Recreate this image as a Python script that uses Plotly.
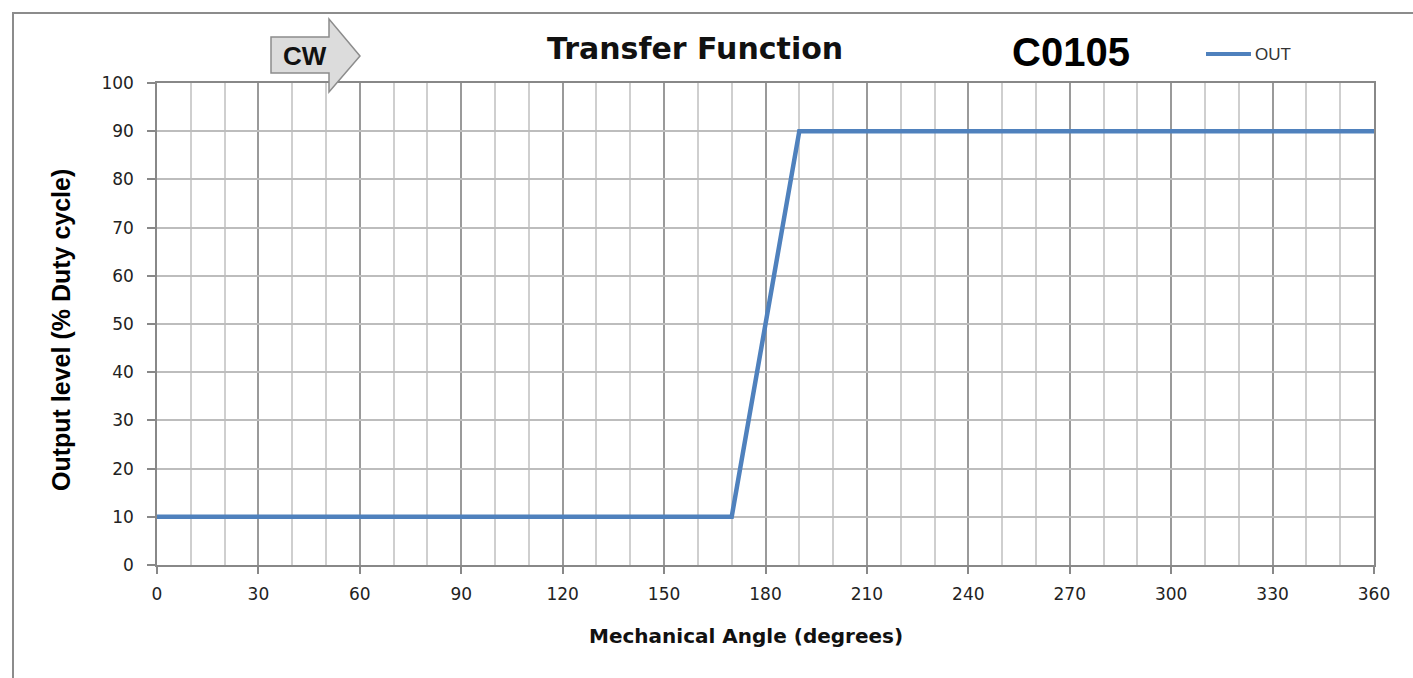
import plotly.graph_objects as go

# Data
angle_deg = [0, 170, 190, 360]
out_pct = [10, 10, 90, 90]
x_ticks = [0, 30, 60, 90, 120, 150, 180, 210, 240, 270, 300, 330, 360]
y_ticks = [0, 10, 20, 30, 40, 50, 60, 70, 80, 90, 100]

W, H = 1413, 678
L, R, T, B = 157, 1374, 83, 565

def px(x):
    return (x - L) / (R - L)

def py(y):
    return (B - y) / (B - T)

fig = go.Figure()
fig.add_trace(go.Scatter(
    x=angle_deg, y=out_pct, mode="lines", name="OUT",
    line=dict(color="#4F81BD", width=4.5), showlegend=False))

tickfont = dict(family="DejaVu Sans", size=17, color="#222222")

fig.update_layout(
    width=W, height=H,
    margin=dict(l=L, r=W - R, t=T, b=H - B, pad=0),
    paper_bgcolor="white", plot_bgcolor="white",
    xaxis=dict(
        range=[0, 360], tickvals=x_ticks, ticktext=[str(v) for v in x_ticks],
        showgrid=True, gridcolor="#9a9a9a", gridwidth=1.5,
        minor=dict(dtick=10, tick0=0, showgrid=True, gridcolor="#cfcfcf", gridwidth=1.5),
        showline=True, linecolor="#888888", linewidth=1.5, mirror=True,
        ticks="outside", ticklen=7, tickcolor="#888888", tickwidth=1.5,
        ticklabelstandoff=6,
        tickfont=tickfont, zeroline=False, fixedrange=True),
    yaxis=dict(
        range=[0, 100], tickvals=y_ticks,
        showgrid=True, gridcolor="#bdbdbd", gridwidth=1.5,
        showline=True, linecolor="#888888", linewidth=1.5, mirror=True,
        ticks="outside", ticklen=8, tickcolor="#888888", tickwidth=1.5,
        ticklabelstandoff=10,
        tickfont=tickfont, zeroline=False, fixedrange=True),
    showlegend=False,
)

# outer frame (top and left edges visible)
fig.add_shape(type="line", xref="paper", yref="paper",
              x0=px(12), x1=px(1413), y0=py(13), y1=py(13),
              line=dict(color="#8c8c8c", width=2))
fig.add_shape(type="line", xref="paper", yref="paper",
              x0=px(13), x1=px(13), y0=py(12), y1=py(678),
              line=dict(color="#8c8c8c", width=2))

# CW arrow
pts = [(271, 37), (329, 37), (329, 19), (360, 56), (329, 92), (329, 73), (271, 73)]
path = "M " + " L ".join(f"{px(a):.5f},{py(b):.5f}" for a, b in pts) + " Z"
fig.add_shape(type="path", xref="paper", yref="paper", path=path,
              fillcolor="#dcdcdc", line=dict(color="#8c8c8c", width=1.5))

def ann(text, x, y, size, family, color="#111111", xanchor="center", angle=0):
    fig.add_annotation(text=text, xref="paper", yref="paper",
                       x=px(x), y=py(y), xanchor=xanchor, yanchor="middle",
                       textangle=angle, showarrow=False,
                       font=dict(family=family, size=size, color=color))

ann("<b>CW</b>", 305, 56, 26, "Liberation Sans")
ann("<b>Transfer Function</b>", 695, 48, 30, "DejaVu Sans")
ann("<b>C0105</b>", 1071, 52, 40, "Liberation Sans", color="#000000")

# legend
fig.add_shape(type="line", xref="paper", yref="paper",
              x0=px(1206), x1=px(1251), y0=py(54), y1=py(54),
              line=dict(color="#4F81BD", width=4))
ann("OUT", 1253, 54, 17, "Liberation Sans", color="#333333", xanchor="left")

# axis titles
ann("<b>Output level (% Duty cycle)</b>", 61, 330, 25, "Liberation Sans", color="#000000", angle=-90)
ann("<b>Mechanical Angle (degrees)</b>", 746, 636, 20, "DejaVu Sans")

fig.write_html("out.html", config={"displayModeBar": False},
               post_script="document.body.style.margin='0';")
